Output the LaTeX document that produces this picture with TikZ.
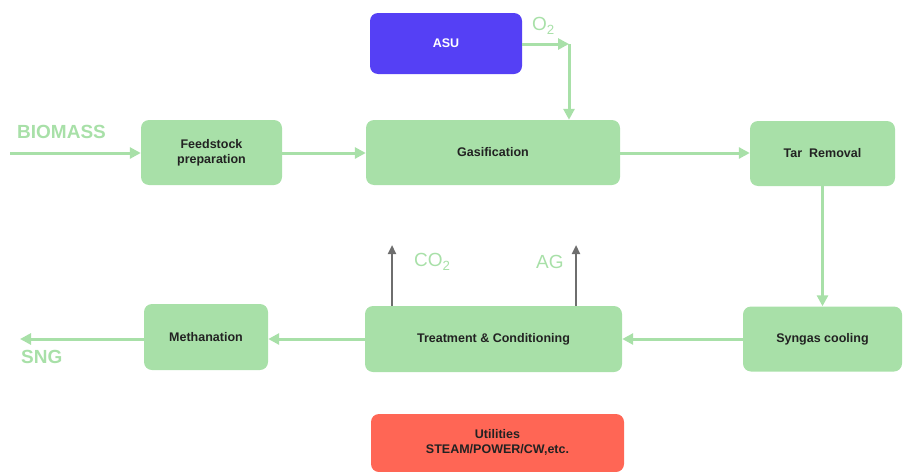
\documentclass[tikz,border=0pt]{standalone}
\usepackage{fontspec}
\setmainfont{Liberation Sans}
\usetikzlibrary{arrows.meta}
\definecolor{boxgreen}{HTML}{A8E0A8}
\definecolor{arrgreen}{HTML}{A8E0A8}
\definecolor{asublue}{HTML}{5540F5}
\definecolor{utilred}{HTML}{FF6655}
\definecolor{txtdark}{HTML}{222222}
\definecolor{arrgray}{HTML}{6E6E6E}
\tikzset{
  block/.style={fill=boxgreen, rounded corners=8pt, inner sep=0pt, text=txtdark,
    font=\fontsize{12.5}{15}\selectfont\bfseries, align=center},
  flow/.style={draw=arrgreen, line width=3pt, -{Triangle[length=11pt,width=11pt]}},
  vent/.style={draw=arrgray, line width=2.2pt, -{Triangle[length=9pt,width=8pt]}},
  lbl/.style={text=arrgreen, font=\fontsize{19}{22}\selectfont, inner sep=0pt},
  blbl/.style={lbl, font=\fontsize{19}{22}\selectfont\bfseries},
}
\begin{document}
\begin{tikzpicture}[x=1pt,y=-1pt]
\useasboundingbox (0,0) rectangle (907,471);
% boxes
\node[block, fill=asublue, text=white, minimum width=152pt, minimum height=61pt] (asu) at (446,43.5) {ASU};
\node[block, minimum width=141pt, minimum height=65pt] (feed) at (211.5,152.5) {Feedstock\\preparation};
\node[block, minimum width=254pt, minimum height=65pt] (gas) at (493,152.5) {Gasification};
\node[block, minimum width=145pt, minimum height=65pt] (tar) at (822.5,153.5) {Tar\ \ Removal};
\node[block, minimum width=159pt, minimum height=65pt] (syn) at (822.5,339) {Syngas cooling};
\node[block, minimum width=257pt, minimum height=66pt] (treat) at (493.5,339) {Treatment \& Conditioning};
\node[block, minimum width=124pt, minimum height=66pt] (meth) at (206,337) {Methanation};
\node[block, fill=utilred, minimum width=253pt, minimum height=58pt] (util) at (497.5,443) {\raisebox{4.5pt}{\begin{tabular}{@{}c@{}}Utilities\\STEAM/POWER/CW,etc.\end{tabular}}};
% coordinates
\coordinate (bin) at (10,153);
\coordinate (sngout) at (20,339);
\coordinate (o2c) at (569,44);
\coordinate (co2top) at (392,245);
\coordinate (agtop) at (576,245);
% arrows
\draw[flow] (bin) -- (feed.west |- bin);
\draw[flow] (feed.east |- bin) -- (gas.west |- bin);
\draw[flow] (gas.east |- bin) -- (tar.west |- bin);
\draw[flow] (asu.east |- o2c) -- (o2c);
\draw[flow] (o2c) -- (o2c |- gas.north);
\draw[flow] (tar.south) -- (syn.north);
\draw[flow] (syn.west) -- (treat.east);
\draw[flow] (treat.west) -- (meth.east |- treat.west);
\draw[flow] (meth.west |- sngout) -- (sngout);
\draw[vent] (co2top |- treat.north) -- (co2top);
\draw[vent] (agtop |- treat.north) -- (agtop);
% labels
\node[blbl, anchor=west] (biomass) at (17,132) {BIOMASS};
\node[blbl, anchor=west] (sng) at (21,357) {SNG};
\node[lbl, anchor=west] (o2) at (532,26) {O\textsubscript{2}};
\node[lbl, anchor=west] (co2) at (414,262) {CO\textsubscript{2}};
\node[lbl, anchor=west] (ag) at (536,262) {AG};
\end{tikzpicture}
\end{document}
